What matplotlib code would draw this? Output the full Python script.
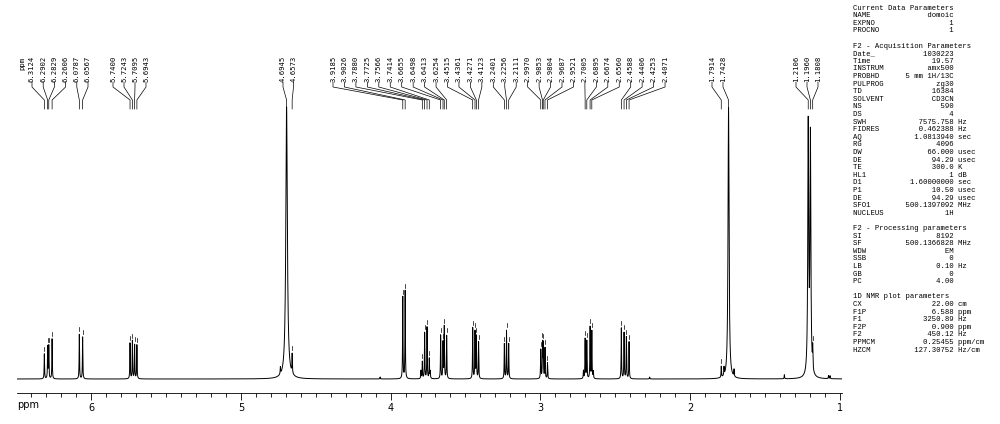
import numpy as np
import matplotlib
matplotlib.use("Agg")
import matplotlib.pyplot as plt
from matplotlib.ticker import MultipleLocator, FormatStrFormatter

# picked peaks (ppm) and heights (px above baseline)
peak_ppm = [6.3124, 6.2902, 6.2829, 6.2606, 6.0787, 6.0567,
            5.7400, 5.7243, 5.7095, 5.6943,
            4.6945, 4.6573,
            3.9185, 3.9026, 3.7880, 3.7725, 3.7566, 3.7414,
            3.6655, 3.6498, 3.6413, 3.6254,
            3.4515, 3.4361, 3.4271, 3.4123,
            3.2401, 3.2256, 3.2111,
            2.9970, 2.9853, 2.9804, 2.9687, 2.9521,
            2.7005, 2.6895, 2.6674, 2.6560,
            2.4588, 2.4406, 2.4253, 2.4071,
            1.7914, 1.7428,
            1.2106, 1.1960, 1.1808]
peak_height = [25, 32, 33, 40, 45, 42,
               36, 38, 34, 34,
               272, 19,
               82, 88, 17, 46, 52, 20,
               44, 36, 52, 43,
               51, 47, 42, 37,
               35, 48, 35,
               29, 35, 34, 31, 16,
               40, 38, 52, 48,
               51, 46, 42, 37,
               11, 272,
               250, 238, 21]
peak_hwhm = [0.0016] * len(peak_ppm)
peak_hwhm[10] = 0.006   # water
peak_hwhm[43] = 0.004
peak_hwhm[44] = 0.0035
peak_hwhm[45] = 0.0035

# small unlabelled bumps
minor_ppm = [4.736, 1.773, 1.706, 1.37, 1.075, 1.065, 2.27, 4.07, 3.797, 3.735, 2.712, 2.646]
minor_height = [7, 8, 7, 4, 3, 3, 2, 2, 8, 7, 8, 7]

# label groups: number of labels in each group
group_size = [6, 4, 2, 30, 2, 3]

params = [
    ("Current Data Parameters", None, None),
    ("NAME", "domoic", ""),
    ("EXPNO", "1", ""),
    ("PROCNO", "1", ""),
    None,
    ("F2 - Acquisition Parameters", None, None),
    ("Date_", "1030223", ""),
    ("Time", "19.57", ""),
    ("INSTRUM", "amx500", ""),
    ("PROBHD", "5 mm 1H/13C", ""),
    ("PULPROG", "zg30", ""),
    ("TD", "16384", ""),
    ("SOLVENT", "CD3CN", ""),
    ("NS", "590", ""),
    ("DS", "4", ""),
    ("SWH", "7575.758", "Hz"),
    ("FIDRES", "0.462388", "Hz"),
    ("AQ", "1.0813940", "sec"),
    ("RG", "4096", ""),
    ("DW", "66.000", "usec"),
    ("DE", "94.29", "usec"),
    ("TE", "300.0", "K"),
    ("HL1", "1", "dB"),
    ("D1", "1.60000000", "sec"),
    ("P1", "10.50", "usec"),
    ("DE", "94.29", "usec"),
    ("SFO1", "500.1397092", "MHz"),
    ("NUCLEUS", "1H", ""),
    None,
    ("F2 - Processing parameters", None, None),
    ("SI", "8192", ""),
    ("SF", "500.1366828", "MHz"),
    ("WDW", "EM", ""),
    ("SSB", "0", ""),
    ("LB", "0.10", "Hz"),
    ("GB", "0", ""),
    ("PC", "4.00", ""),
    None,
    ("1D NMR plot parameters", None, None),
    ("CX", "22.00", "cm"),
    ("F1P", "6.588", "ppm"),
    ("F1", "3250.89", "Hz"),
    ("F2P", "0.900", "ppm"),
    ("F2", "450.12", "Hz"),
    ("PPMCM", "0.25455", "ppm/cm"),
    ("HZCM", "127.30752", "Hz/cm"),
]

# build the spectrum from the peak list (lorentzian lines)
ppm = np.linspace(6.50, 0.98, 14000)
spec = np.zeros_like(ppm)
for p, h, w in zip(peak_ppm, peak_height, peak_hwhm):
    spec += h / (1 + ((ppm - p) / w) ** 2)
for p, h in zip(minor_ppm, minor_height):
    spec += h / (1 + ((ppm - p) / 0.0016) ** 2)

W, H = 1000, 424
fig = plt.figure(figsize=(10, 4.24), dpi=100)
ax = fig.add_axes([17 / W, 31 / H, 825 / W, 393 / H])
x0, x1 = 6.495, 0.985
ax.set_xlim(x0, x1)
ax.set_ylim(-14, 379)
ax.plot(ppm, spec, color='black', lw=0.7)


def px2ppm(px):
    return x0 + (px - 17) / 825 * (x1 - x0)


# peak labels
group_start = [32, 113, 283, 333, 712, 796]
group_step = [11.2, 11.0, 10.5, 11.45, 11.0, 11.0]
lab_font = dict(fontsize=5.2, family='DejaVu Sans Mono', rotation=90,
                ha='center', va='bottom')
i = 0
for n, s0, st in zip(group_size, group_start, group_step):
    for k in range(n):
        p = peak_ppm[i]
        lx = px2ppm(s0 + k * st)
        ax.text(lx, 297, "%.4f" % p, **lab_font)
        ax.plot([lx, lx, p, p], [297, 292, 279, 270], color='black', lw=0.5)
        v = np.interp(p, ppm[::-1], spec[::-1])
        if v < 200:
            ax.plot([p, p], [v + 3, v + 7], color='black', lw=0.5)
        i += 1
ax.text(px2ppm(22), 309, "ppm", **lab_font)

# ppm scale
ax.xaxis.set_major_locator(MultipleLocator(1))
ax.xaxis.set_minor_locator(MultipleLocator(0.1))
ax.xaxis.set_major_formatter(FormatStrFormatter('%d'))
ax.tick_params(axis='x', which='major', direction='out', length=5, width=0.6,
               labelsize=7, pad=2)
ax.tick_params(axis='x', which='minor', direction='out', length=3, width=0.6)
ax.set_yticks([])
for s in ['top', 'left', 'right']:
    ax.spines[s].set_visible(False)
ax.spines['bottom'].set_linewidth(0.6)
fig.text(17 / W, 1 - 405 / H, "ppm", ha='left', va='center', fontsize=7)

# parameter block
for k, row in enumerate(params):
    if row is None:
        continue
    key, val, unit = row
    if val is None:
        line = key
    else:
        line = "%-8s%15s" % (key, val)
        if unit:
            line += " " + unit
    fig.text(853 / W, 1 - (8 + 7.6 * k) / H, line, ha='left', va='center',
             fontsize=5.2, family='Liberation Mono')

fig.savefig("out.png", dpi=100, facecolor='white')
